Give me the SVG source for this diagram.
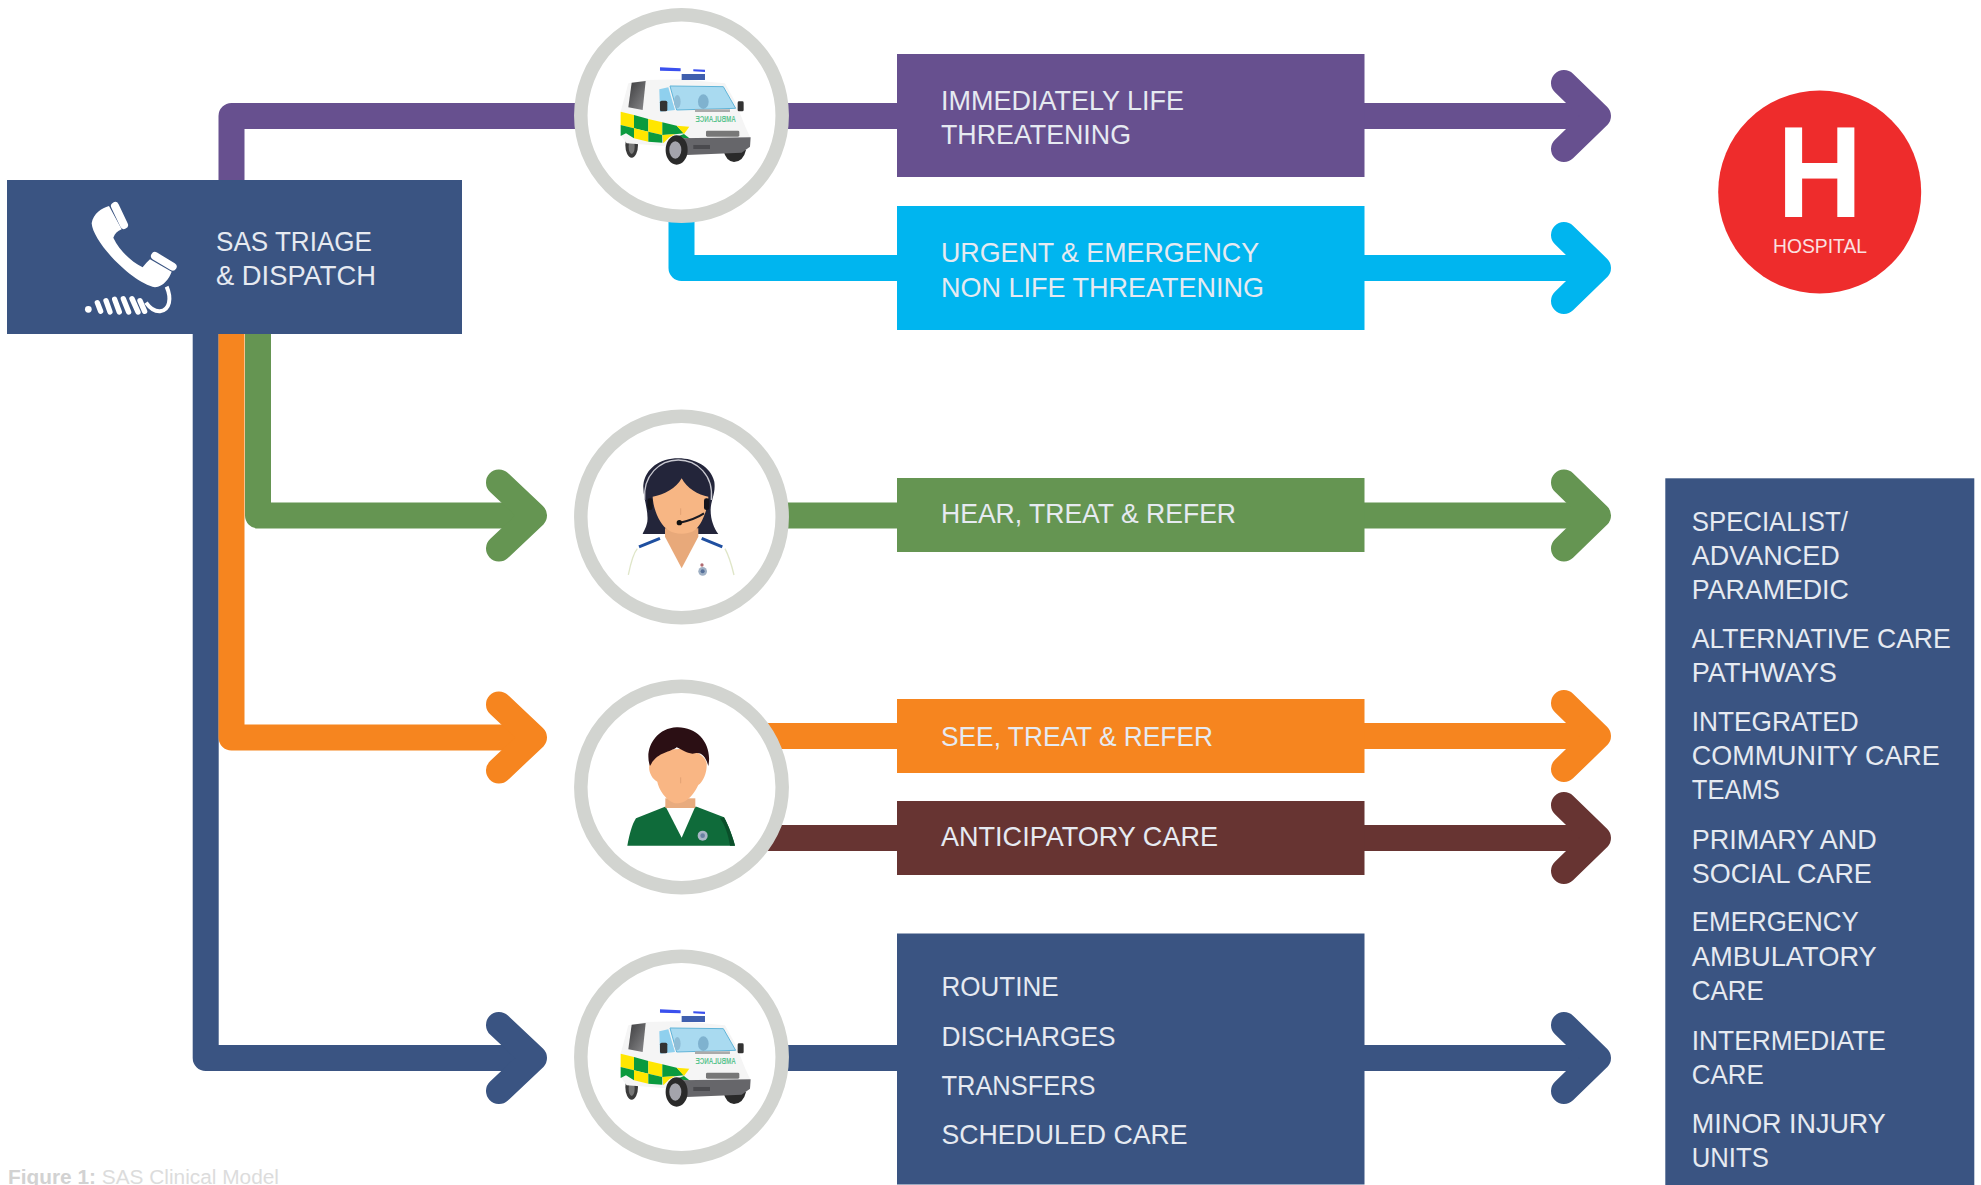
<svg xmlns="http://www.w3.org/2000/svg" width="1981" height="1185" viewBox="0 0 1981 1185">
<style>
text{font-family:"Liberation Sans",Arial,sans-serif}
.t{font-size:28px;fill:#e6eaf1}
.c{fill:none;stroke-width:26;stroke-linejoin:round;stroke-linecap:butt}
.h{fill:none;stroke-width:26;stroke-linejoin:round;stroke-linecap:round}
.ring{fill:#fff;stroke:#d2d4d0;stroke-width:13.5}
.purple{stroke:#67508f}.sky{stroke:#00b5ef}.green{stroke:#659552}.orange{stroke:#f6851f}.brown{stroke:#673432}.navy{stroke:#3a5482}
</style>
<defs>
<linearGradient id="rearGlass" x1="0" y1="0" x2="1" y2="1"><stop offset="0" stop-color="#3c3c3e"/><stop offset="1" stop-color="#8a8a8c"/></linearGradient>
<g id="ambulance" transform="translate(560,0) scale(0.3333)">
<ellipse cx="215" cy="435" rx="19" ry="38" fill="#3a3a3a"/>
<ellipse cx="215" cy="440" rx="9" ry="22" fill="#777"/>
<path d="M490 450H558Q550 485 522 486Q498 484 490 450Z" fill="#2a2a2a"/>
<path d="M205 250L258 240L360 238L495 250L528 310L556 380L572 415L570 442L380 462L340 440L200 430L182 405V335Z" fill="#f5f5f5"/>
<path d="M215 248L257 243L248 330L205 322Z" fill="url(#rearGlass)"/>
<path d="M298 268L325 262L345 330L300 335Z" fill="#8fd0ee"/>
<path d="M330 258L490 260L527 325L350 330Z" fill="#a9daf0" stroke="#5fb4d8" stroke-width="3"/>
<ellipse cx="430" cy="305" rx="16" ry="22" fill="#7fb2cf"/>
<ellipse cx="352" cy="305" rx="10" ry="20" fill="#8fbdd6"/>
<rect x="405" y="328" width="105" height="8" fill="#aaa"/>
<rect x="300" y="302" width="22" height="32" rx="5" fill="#333"/>
<rect x="533" y="304" width="18" height="30" rx="4" fill="#333"/>
<path d="M300 202L362 205V214L300 212Z" fill="#3a50ee"/>
<path d="M400 208L435 209V216L400 214Z" fill="#3a50ee"/>
<rect x="365" y="222" width="70" height="18" fill="#3f5fae"/>
<path d="M182 335L222 345V385L182 375Z" fill="#ffe600"/>
<path d="M222 345L265 357V395L222 385Z" fill="#0a9a3e"/>
<path d="M265 357L307 367V405L265 395Z" fill="#ffe600"/>
<path d="M307 367L350 377L372 400L345 403L307 405Z" fill="#0a9a3e"/>
<path d="M350 377L388 380L372 402Z" fill="#ffe600"/>
<path d="M182 375L222 385V415L198 400L182 408Z" fill="#0a9a3e"/>
<path d="M222 385L265 395V425L222 415Z" fill="#ffe600"/>
<path d="M265 395L307 405V428L265 425Z" fill="#0a9a3e"/>
<path d="M307 405L345 403L328 412L310 430Z" fill="#ffe600"/>
<path d="M372 402L392 418L350 410Z" fill="#0a9a3e"/>
<text transform="translate(527,366) scale(-1,1)" font-size="25" font-weight="bold" fill="#5cc490" textLength="120" lengthAdjust="spacingAndGlyphs">AMBULANCE</text>
<rect x="438" y="392" width="100" height="18" rx="4" fill="#777"/>
<path d="M358 415L572 412L570 440L545 458L380 465L360 450Z" fill="#66666a"/>
<rect x="400" y="435" width="50" height="12" fill="#4a4a4e"/>
<ellipse cx="350" cy="450" rx="33" ry="44" fill="#2a2a2a"/>
<ellipse cx="346" cy="450" rx="18" ry="26" fill="#a4a4ac"/>
</g>
</defs>

<g id="connectors">
<polyline class="c navy" points="205.7,334 205.7,1058 534,1058"/>
<polyline class="h navy" points="499,1025 534,1058 499,1091"/>
<polyline class="c orange" points="231.5,334 231.5,737.5 534,737.5"/>
<polyline class="h orange" points="499,704.5 534,737.5 499,770.5"/>
<polyline class="c green" points="258,334 258,515.5 534,515.5"/>
<polyline class="h green" points="499,482.5 534,515.5 499,548.5"/>
<polyline class="c purple" points="231.5,190 231.5,116 1598,116"/>
<polyline class="h purple" points="1564,83 1598,116 1564,149"/>
<polyline class="c sky" points="681.5,200 681.5,268 1598,268"/>
<polyline class="h sky" points="1564,235 1598,268 1564,301"/>
<line class="c green" x1="700" y1="515.5" x2="1598" y2="515.5"/>
<polyline class="h green" points="1564,482.5 1598,515.5 1564,548.5"/>
<line class="c orange" x1="700" y1="736" x2="1598" y2="736"/>
<polyline class="h orange" points="1564,703 1598,736 1564,769"/>
<line class="c brown" x1="700" y1="838" x2="1598" y2="838"/>
<polyline class="h brown" points="1564,805 1598,838 1564,871"/>
<line class="c navy" x1="700" y1="1058" x2="1598" y2="1058"/>
<polyline class="h navy" points="1564,1025 1598,1058 1564,1091"/>
</g>

<g id="triage">
<rect x="7" y="180" width="455" height="154" fill="#3a5482"/>
<g transform="translate(0,170) scale(0.3333)" fill="#fff" stroke="none">
<path d="M275 160C280 130 305 115 327 108L365 178C352 183 345 190 340 203C360 245 395 275 428 292C435 283 442 275 450 268L515 305C508 325 490 350 465 352C400 340 280 220 275 160Z"/>
<path d="M345 108L372 165M465 258L518 290" stroke="#fff" stroke-width="24" stroke-linecap="round" fill="none"/>
<path d="M500 350C515 385 510 420 480 424C462 425 448 412 438 398" stroke="#fff" stroke-width="12" fill="none"/>
<path d="M292 398L302 424M318 392L330 426M344 388L358 426M370 386L386 426M396 386L414 426M420 392L434 424" stroke="#fff" stroke-width="16" stroke-linecap="round" fill="none"/>
<circle cx="265" cy="418" r="10"/>
</g>
<text class="t" x="216" y="250.7" textLength="156" lengthAdjust="spacingAndGlyphs">SAS TRIAGE</text>
<text class="t" x="216" y="285.2" textLength="160" lengthAdjust="spacingAndGlyphs">&amp; DISPATCH</text>
</g>

<g id="ambulance-top">
<circle class="ring" cx="681.5" cy="115.5" r="100.7"/>
<use href="#ambulance"/>
</g>

<g id="call-handler">
<circle class="ring" cx="681.5" cy="517" r="100.7"/>
<g transform="translate(560,400) scale(0.3333)">
<path d="M355 175C300 175 256 205 250 255C248 290 266 330 262 365C258 385 250 395 248 402H475C462 385 452 360 452 330C452 300 468 280 463 245C452 200 405 175 355 175Z" fill="#23253a"/>
<path d="M205 525C212 490 220 460 232 446L315 410L365 505L415 410L495 446C508 470 516 500 522 525Z" fill="#fff"/>
<path d="M205 525C212 490 220 460 232 446M495 446C508 470 516 500 522 525" fill="none" stroke="#dfe6c8" stroke-width="4"/>
<path d="M315 385H415V410L365 505L315 410Z" fill="#e8a97a"/>
<path d="M278 290C310 285 350 265 365 235C380 265 415 285 445 290C445 325 425 375 405 390C385 405 345 405 325 390C300 375 280 330 278 290Z" fill="#f7b684"/>
<path d="M254 300C248 225 300 180 355 180C410 180 462 225 454 300" fill="none" stroke="#c8c8d0" stroke-width="4"/>
<rect x="262" y="295" width="16" height="35" rx="7" fill="#14141c"/>
<rect x="432" y="295" width="16" height="35" rx="7" fill="#14141c"/>
<path d="M432 340Q405 358 360 368" fill="none" stroke="#1a1a22" stroke-width="6"/>
<circle cx="358" cy="368" r="8" fill="#111"/>
<path d="M237 441L300 415M425 415L487 441" stroke="#1f4fa0" stroke-width="9" fill="none"/>
<circle cx="428" cy="514" r="13" fill="#9fb0c4"/>
<circle cx="428" cy="514" r="6" fill="#56709a"/>
<circle cx="426" cy="495" r="5" fill="#b06a70"/>
<path d="M362 325V345" stroke="#d99a6c" stroke-width="2"/>
</g>
</g>

<g id="paramedic">
<circle class="ring" cx="681.5" cy="787" r="100.7"/>
<g transform="translate(560,670) scale(0.3333)">
<path d="M202 527C208 495 215 465 228 445L315 410H410L492 442C505 465 518 500 525 527Z" fill="#0f6b3a"/>
<path d="M492 442C505 465 518 500 525 527H510C505 495 495 465 480 445Z" fill="#0a4f2a"/>
<path d="M318 412H405L365 503Z" fill="#fff"/>
<path d="M316 385H406V414H316Z" fill="#e8ab7e"/>
<path d="M270 280C262 295 272 325 292 335C298 365 325 398 350 400C385 400 405 365 415 345C430 335 442 305 440 280C430 225 295 220 270 280Z" fill="#f9b684"/>
<path d="M270 288C252 240 285 175 350 172C415 170 458 225 445 288C438 262 425 245 405 250C385 255 365 238 350 232C330 248 292 245 270 288Z" fill="#2b0f14"/>
<circle cx="428" cy="497" r="15" fill="#a8b6c6"/>
<circle cx="428" cy="497" r="7" fill="#6a82a4"/>
<path d="M362 322V340" stroke="#d99a6c" stroke-width="2"/>
</g>
</g>

<g id="ambulance-bottom">
<circle class="ring" cx="681.5" cy="1057" r="100.7"/>
<use href="#ambulance" y="942"/>
</g>

<g id="immediately">
<rect x="897" y="54" width="467.5" height="123" fill="#67508f"/>
<text class="t" x="941" y="110" textLength="243" lengthAdjust="spacingAndGlyphs">IMMEDIATELY LIFE</text>
<text class="t" x="941" y="144" textLength="190" lengthAdjust="spacingAndGlyphs">THREATENING</text>
</g>
<g id="urgent">
<rect x="897" y="206" width="467.5" height="124" fill="#00b5ef"/>
<text class="t" x="941" y="262" textLength="318" lengthAdjust="spacingAndGlyphs">URGENT &amp; EMERGENCY</text>
<text class="t" x="941" y="296.5" textLength="323" lengthAdjust="spacingAndGlyphs">NON LIFE THREATENING</text>
</g>
<g id="hear">
<rect x="897" y="478" width="467.5" height="74" fill="#659552"/>
<text class="t" x="941" y="523" textLength="295" lengthAdjust="spacingAndGlyphs">HEAR, TREAT &amp; REFER</text>
</g>
<g id="see">
<rect x="897" y="699" width="467.5" height="74" fill="#f6851f"/>
<text class="t" x="941" y="745.5" textLength="272" lengthAdjust="spacingAndGlyphs">SEE, TREAT &amp; REFER</text>
</g>
<g id="anticipatory">
<rect x="897" y="801" width="467.5" height="74" fill="#673432"/>
<text class="t" x="941" y="845.5" textLength="277" lengthAdjust="spacingAndGlyphs">ANTICIPATORY CARE</text>
</g>
<g id="routine">
<rect x="897" y="933.5" width="467.5" height="251" fill="#3a5482"/>
<text class="t" x="941.5" y="996.3" textLength="117" lengthAdjust="spacingAndGlyphs">ROUTINE</text>
<text class="t" x="941.5" y="1046" textLength="174" lengthAdjust="spacingAndGlyphs">DISCHARGES</text>
<text class="t" x="941.5" y="1095" textLength="154" lengthAdjust="spacingAndGlyphs">TRANSFERS</text>
<text class="t" x="941.5" y="1144.3" textLength="246" lengthAdjust="spacingAndGlyphs">SCHEDULED CARE</text>
</g>

<g id="hospital">
<circle cx="1819.7" cy="192" r="101.5" fill="#ee2c2c"/>
<text x="1819.7" y="216.7" text-anchor="middle" font-size="130" font-weight="bold" fill="#fff" textLength="85" lengthAdjust="spacingAndGlyphs">H</text>
<text x="1820" y="253" text-anchor="middle" font-size="20" fill="#fbe0e0" textLength="94" lengthAdjust="spacingAndGlyphs">HOSPITAL</text>
</g>

<g id="destinations">
<rect x="1665.3" y="478.3" width="309" height="707" fill="#3a5482"/>
<text class="t" x="1691.8" y="531" textLength="156" lengthAdjust="spacingAndGlyphs">SPECIALIST/</text>
<text class="t" x="1691.8" y="565" textLength="148" lengthAdjust="spacingAndGlyphs">ADVANCED</text>
<text class="t" x="1691.8" y="599.3" textLength="157" lengthAdjust="spacingAndGlyphs">PARAMEDIC</text>
<text class="t" x="1691.8" y="648.3" textLength="259" lengthAdjust="spacingAndGlyphs">ALTERNATIVE CARE</text>
<text class="t" x="1691.8" y="682.3" textLength="145" lengthAdjust="spacingAndGlyphs">PATHWAYS</text>
<text class="t" x="1691.8" y="731" textLength="167" lengthAdjust="spacingAndGlyphs">INTEGRATED</text>
<text class="t" x="1691.8" y="765" textLength="248" lengthAdjust="spacingAndGlyphs">COMMUNITY CARE</text>
<text class="t" x="1691.8" y="799.3" textLength="88" lengthAdjust="spacingAndGlyphs">TEAMS</text>
<text class="t" x="1691.8" y="848.5" textLength="185" lengthAdjust="spacingAndGlyphs">PRIMARY AND</text>
<text class="t" x="1691.8" y="883" textLength="180" lengthAdjust="spacingAndGlyphs">SOCIAL CARE</text>
<text class="t" x="1691.8" y="931" textLength="167" lengthAdjust="spacingAndGlyphs">EMERGENCY</text>
<text class="t" x="1691.8" y="965.7" textLength="185" lengthAdjust="spacingAndGlyphs">AMBULATORY</text>
<text class="t" x="1691.8" y="1000" textLength="72" lengthAdjust="spacingAndGlyphs">CARE</text>
<text class="t" x="1691.8" y="1050" textLength="194" lengthAdjust="spacingAndGlyphs">INTERMEDIATE</text>
<text class="t" x="1691.8" y="1084.3" textLength="72" lengthAdjust="spacingAndGlyphs">CARE</text>
<text class="t" x="1691.8" y="1133.3" textLength="194" lengthAdjust="spacingAndGlyphs">MINOR INJURY</text>
<text class="t" x="1691.8" y="1167" textLength="77" lengthAdjust="spacingAndGlyphs">UNITS</text>
</g>

<text id="caption" x="8" y="1184" font-size="19.5" fill="#dcdcdc" textLength="271" lengthAdjust="spacingAndGlyphs"><tspan font-weight="bold" fill="#d2d2d2">Figure 1:</tspan> SAS Clinical Model</text>
</svg>
